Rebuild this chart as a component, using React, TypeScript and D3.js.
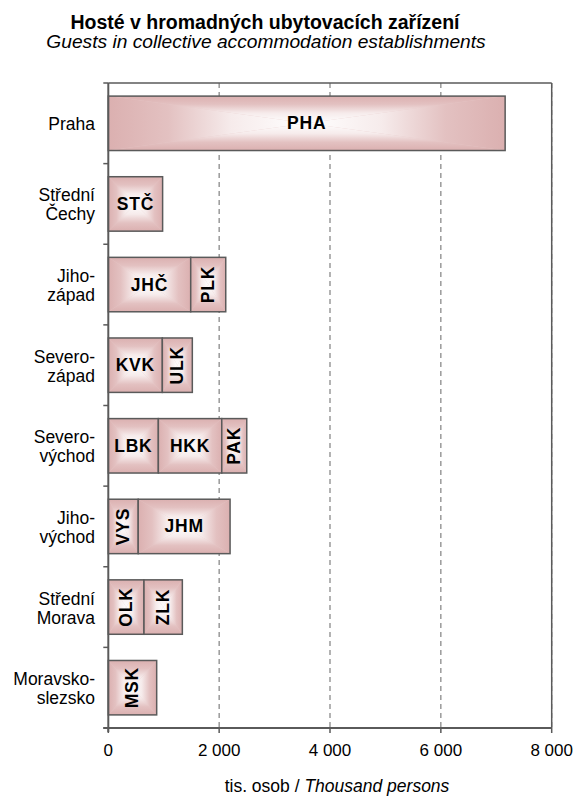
import React from "react";
import * as d3 from "d3";

const regionLabels: string[][] = [
  ["Praha"],
  ["Střední", "Čechy"],
  ["Jiho-", "západ"],
  ["Severo-", "západ"],
  ["Severo-", "východ"],
  ["Jiho-", "východ"],
  ["Střední", "Morava"],
  ["Moravsko-", "slezsko"],
];
const regionCodes: string[][] = [
  ["PHA"],
  ["STČ"],
  ["JHČ", "PLK"],
  ["KVK", "ULK"],
  ["LBK", "HKK", "PAK"],
  ["VYS", "JHM"],
  ["OLK", "ZLK"],
  ["MSK"],
];
const regionValues: number[][] = [
  [7160],
  [980],
  [1487, 632],
  [975, 541],
  [903, 1144, 451],
  [540, 1657],
  [644, 692],
  [873],
];
const verticalCodes = ["PLK", "ULK", "PAK", "VYS", "OLK", "ZLK", "MSK"];
const xTicks = [0, 2000, 4000, 6000, 8000];
const titleText = "Hosté v hromadných ubytovacích zařízení";
const subtitleText = "Guests in collective accommodation establishments";
const axisTitleRoman = "tis. osob / ";
const axisTitleItalic = "Thousand persons";

const W = 575;
const H = 799;
const left = 108.3;
const right = 551.7;
const top = 83;
const bottom = 728;
const FONT = "'Liberation Sans', Arial, Helvetica, sans-serif";
const EDGE = "#dbb0b0";
const STROKE = "#5a5a5a";

function fmt(v: number) {
  if (v < 1000) return String(v);
  const s = String(v);
  return s.slice(0, s.length - 3) + " " + s.slice(s.length - 3);
}

export default function App() {
  const x = d3.scaleLinear().domain([0, 8000]).range([left, right]);
  const y = d3
    .scaleBand<number>()
    .domain(d3.range(regionLabels.length))
    .range([top, bottom])
    .paddingInner(0.325)
    .paddingOuter(0.1625);
  const step = y.step();

  const stops = [
    { o: 0, c: EDGE },
    { o: 0.3, c: "#e3c1c1" },
    { o: 0.62, c: "#f6ebeb" },
    { o: 1, c: "#ffffff" },
  ];
  const grads = [
    { id: "gT", x1: 0, y1: 0, x2: 0, y2: 1 },
    { id: "gB", x1: 0, y1: 1, x2: 0, y2: 0 },
    { id: "gL", x1: 0, y1: 0, x2: 1, y2: 0 },
    { id: "gR", x1: 1, y1: 0, x2: 0, y2: 0 },
  ];

  const segments: any[] = [];
  regionValues.forEach((vals, i) => {
    let acc = 0;
    vals.forEach((v, j) => {
      const x0 = x(acc);
      const x1 = x(acc + v);
      acc += v;
      segments.push({ i, j, x0, x1, y0: y(i)!, y1: y(i)! + y.bandwidth(), code: regionCodes[i][j] });
    });
  });

  return (
    <svg width={W} height={H} style={{ position: "absolute", left: 0, top: 0, background: "#fff" }}>
      <defs>
        {grads.map((g) => (
          <linearGradient key={g.id} id={g.id} x1={g.x1} y1={g.y1} x2={g.x2} y2={g.y2}>
            {stops.map((s, k) => (
              <stop key={k} offset={s.o} stopColor={s.c} />
            ))}
          </linearGradient>
        ))}
      </defs>

      <text x={265} y={29} textAnchor="middle" fontFamily={FONT} fontWeight="bold" fontSize={19.5} fill="#000">
        {titleText}
      </text>
      <text x={266} y={48} textAnchor="middle" fontFamily={FONT} fontStyle="italic" fontSize={19.2} fill="#000">
        {subtitleText}
      </text>

      {/* grid lines */}
      {xTicks.slice(1).map((t) => (
        <line key={t} x1={x(t)} x2={x(t)} y1={top} y2={bottom} stroke="#808080" strokeWidth={1.2} strokeDasharray="5,4" />
      ))}

      {/* frame */}
      <line x1={left} x2={right} y1={top} y2={top} stroke={STROKE} strokeWidth={1.5} />
      <line x1={right} x2={right} y1={top} y2={bottom} stroke={STROKE} strokeWidth={1.5} />

      {/* bars */}
      {segments.map((s, k) => {
        const cx = (s.x0 + s.x1) / 2;
        const cy = (s.y0 + s.y1) / 2;
        const vertical = verticalCodes.includes(s.code);
        return (
          <g key={k}>
            <rect x={s.x0} y={s.y0} width={s.x1 - s.x0} height={s.y1 - s.y0} fill="#e6c8c8" />
            <path d={`M${s.x0},${s.y0}L${s.x1},${s.y0}L${cx},${cy}Z`} fill="url(#gT)" />
            <path d={`M${s.x0},${s.y1}L${s.x1},${s.y1}L${cx},${cy}Z`} fill="url(#gB)" />
            <path d={`M${s.x0},${s.y0}L${s.x0},${s.y1}L${cx},${cy}Z`} fill="url(#gL)" />
            <path d={`M${s.x1},${s.y0}L${s.x1},${s.y1}L${cx},${cy}Z`} fill="url(#gR)" />
            <rect x={s.x0} y={s.y0} width={s.x1 - s.x0} height={s.y1 - s.y0} fill="none" stroke={STROKE} strokeWidth={1.5} />
            <text
              x={0}
              y={0}
              transform={`translate(${cx},${cy}) rotate(${vertical ? -90 : 0})`}
              textAnchor="middle"
              dominantBaseline="central"
              fontFamily={FONT}
              fontWeight="bold"
              fontSize={17.5}
              letterSpacing={0.8}
              fill="#000"
            >
              {s.code}
            </text>
          </g>
        );
      })}

      {/* axes */}
      <line x1={left} x2={left} y1={top} y2={bottom + 4} stroke={STROKE} strokeWidth={2} />
      <line x1={left - 5} x2={right} y1={bottom} y2={bottom} stroke={STROKE} strokeWidth={2} />
      {d3.range(regionLabels.length + 1).map((k) => (
        <line key={k} x1={left - 5} x2={left} y1={top + k * step} y2={top + k * step} stroke={STROKE} strokeWidth={1.5} />
      ))}
      {xTicks.map((t) => (
        <line key={t} x1={x(t)} x2={x(t)} y1={bottom} y2={bottom + 5} stroke={STROKE} strokeWidth={1.5} />
      ))}
      {xTicks.map((t) => (
        <text key={t} x={x(t)} y={756} textAnchor="middle" fontFamily={FONT} fontSize={17} fill="#000">
          {fmt(t)}
        </text>
      ))}

      {/* category labels */}
      {regionLabels.map((lines, i) => {
        const cy = y(i)! + y.bandwidth() / 2 + 1;
        const lh = 19;
        const y0 = cy - ((lines.length - 1) * lh) / 2;
        return (
          <text key={i} textAnchor="end" fontFamily={FONT} fontSize={17.5} fill="#000">
            {lines.map((l, k) => (
              <tspan key={k} x={95} y={y0 + k * lh} dominantBaseline="central">
                {l}
              </tspan>
            ))}
          </text>
        );
      })}

      <text x={337} y={792} textAnchor="middle" fontFamily={FONT} fontSize={17.5} fill="#000">
        {axisTitleRoman}
        <tspan fontStyle="italic">{axisTitleItalic}</tspan>
      </text>
    </svg>
  );
}
